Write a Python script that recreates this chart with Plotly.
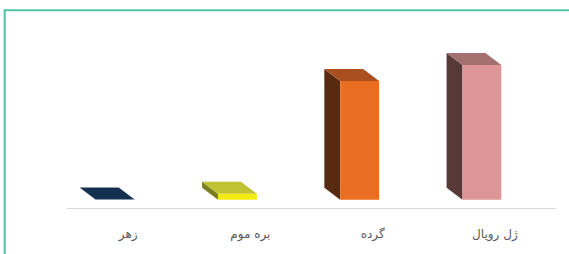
import plotly.graph_objects as go

categories = ["زهر", "بره موم", "گرده", "ژل رویال"]
values = [0.1, 2.3, 45.7, 51.8]
front_colors = ["#14304f", "#f4ec10", "#e96e22", "#de9596"]
top_colors = ["#14304f", "#c0c232", "#aa5020", "#a47170"]
side_colors = ["#0c1e33", "#7d7f1e", "#572a11", "#573a38"]

# 3D styling (data units)
bar_w = 0.318
shift = -0.106
dx = 0.13
dy = 4.65

fig = go.Figure()
xs = list(range(len(categories)))
for i, v in enumerate(values):
    L = xs[i] + shift - bar_w / 2
    R = xs[i] + shift + bar_w / 2
    fig.add_trace(go.Scatter(
        x=[L, L, L - dx, L - dx, L], y=[0, v, v + dy, dy, 0],
        fill="toself", fillcolor=side_colors[i], mode="lines",
        line=dict(width=0), hoverinfo="skip", showlegend=False))
    fig.add_trace(go.Scatter(
        x=[L, R, R - dx, L - dx, L], y=[v, v, v + dy, v + dy, v],
        fill="toself", fillcolor=top_colors[i], mode="lines",
        line=dict(width=0), hoverinfo="skip", showlegend=False))
    fig.add_trace(go.Scatter(
        x=[L, R, R, L, L], y=[0, 0, v, v, 0],
        fill="toself", fillcolor=front_colors[i], mode="lines",
        line=dict(width=0), hoverinfo="skip", showlegend=False))

fig.update_layout(
    width=569, height=254,
    margin=dict(l=67, r=13, t=30, b=40),
    paper_bgcolor="white", plot_bgcolor="white",
    font=dict(family="DejaVu Sans", size=12, color="#595959"),
    xaxis=dict(range=[-0.5, 3.5], tickvals=xs, ticktext=categories,
               showline=True, linecolor="#d9d9d9", linewidth=1,
               showgrid=False, zeroline=False, ticks="",
               ticklabelstandoff=15, fixedrange=True),
    yaxis=dict(range=[-3.16, 65.31], visible=False, showgrid=False,
               zeroline=False, fixedrange=True),
    shapes=[
        dict(type="line", xref="paper", yref="paper",
             x0=-0.1274, x1=-0.1274, y0=-0.3, y1=1.1114,
             line=dict(color="#4fc4a2", width=2)),
        dict(type="line", xref="paper", yref="paper",
             x0=-0.1294, x1=1.1, y0=1.1114, y1=1.1114,
             line=dict(color="#4fc4a2", width=2)),
    ],
)

fig.write_html("out.html",
               post_script="document.body.style.margin='0';document.body.style.overflow='hidden';",
               config={"displayModeBar": False})
